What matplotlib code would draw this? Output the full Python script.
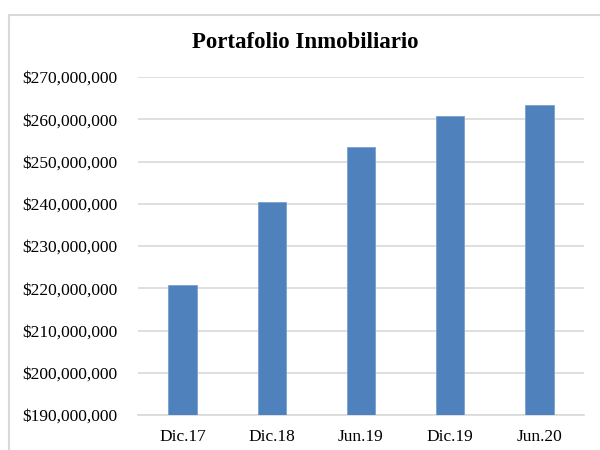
import numpy as np
import matplotlib.pyplot as plt
from matplotlib.patches import Rectangle
from matplotlib.ticker import FuncFormatter

# values
periods = ['Dic.17', 'Dic.18', 'Jun.19', 'Dic.19', 'Jun.20']
portfolio = [220_800_000, 240_400_000, 253_500_000, 260_800_000, 263_300_000]
y_ticks = [190_000_000, 200_000_000, 210_000_000, 220_000_000, 230_000_000,
           240_000_000, 250_000_000, 260_000_000, 270_000_000]

plt.rcParams['font.family'] = ['Liberation Serif', 'DejaVu Serif']

fig = plt.figure(figsize=(6, 4.5), dpi=100)
W, H = 600, 450

# outer chart border (Excel style), runs off the right and bottom edge
fig.patches.append(Rectangle((8.5 / W, -0.05), 1.2, (H - 15) / H + 0.05,
                             transform=fig.transFigure, fill=False,
                             edgecolor='#d9d9d9', linewidth=1.5))

ax = fig.add_axes([138 / W, 1 - 415 / H, (584 - 138) / W, (415 - 77) / H])

x = np.arange(len(periods))
ax.bar(x, portfolio, width=0.32, color='#4f81bd', edgecolor='#7aa0cf',
       linewidth=0.6, zorder=3)

ax.set_xlim(-0.5, len(periods) - 0.5)
ax.set_ylim(y_ticks[0], y_ticks[-1])
ax.set_yticks(y_ticks)
ax.yaxis.set_major_formatter(FuncFormatter(lambda v, p: f'${v:,.0f}'))
ax.set_xticks(x)
ax.set_xticklabels(periods)

ax.grid(axis='y', color='#d9d9d9', linewidth=1.2, zorder=0)
for side in ['top', 'right', 'left']:
    ax.spines[side].set_visible(False)
ax.spines['bottom'].set_color('#d9d9d9')
ax.spines['bottom'].set_linewidth(1.2)
ax.tick_params(axis='both', length=0, labelsize=12.5, colors='black')
ax.tick_params(axis='y', pad=15)
ax.tick_params(axis='x', pad=10)

fig.text(305 / W, 1 - 42 / H, 'Portafolio Inmobiliario', ha='center',
         va='center', fontsize=16.5, fontweight='bold')

fig.savefig('out.png', dpi=100)
